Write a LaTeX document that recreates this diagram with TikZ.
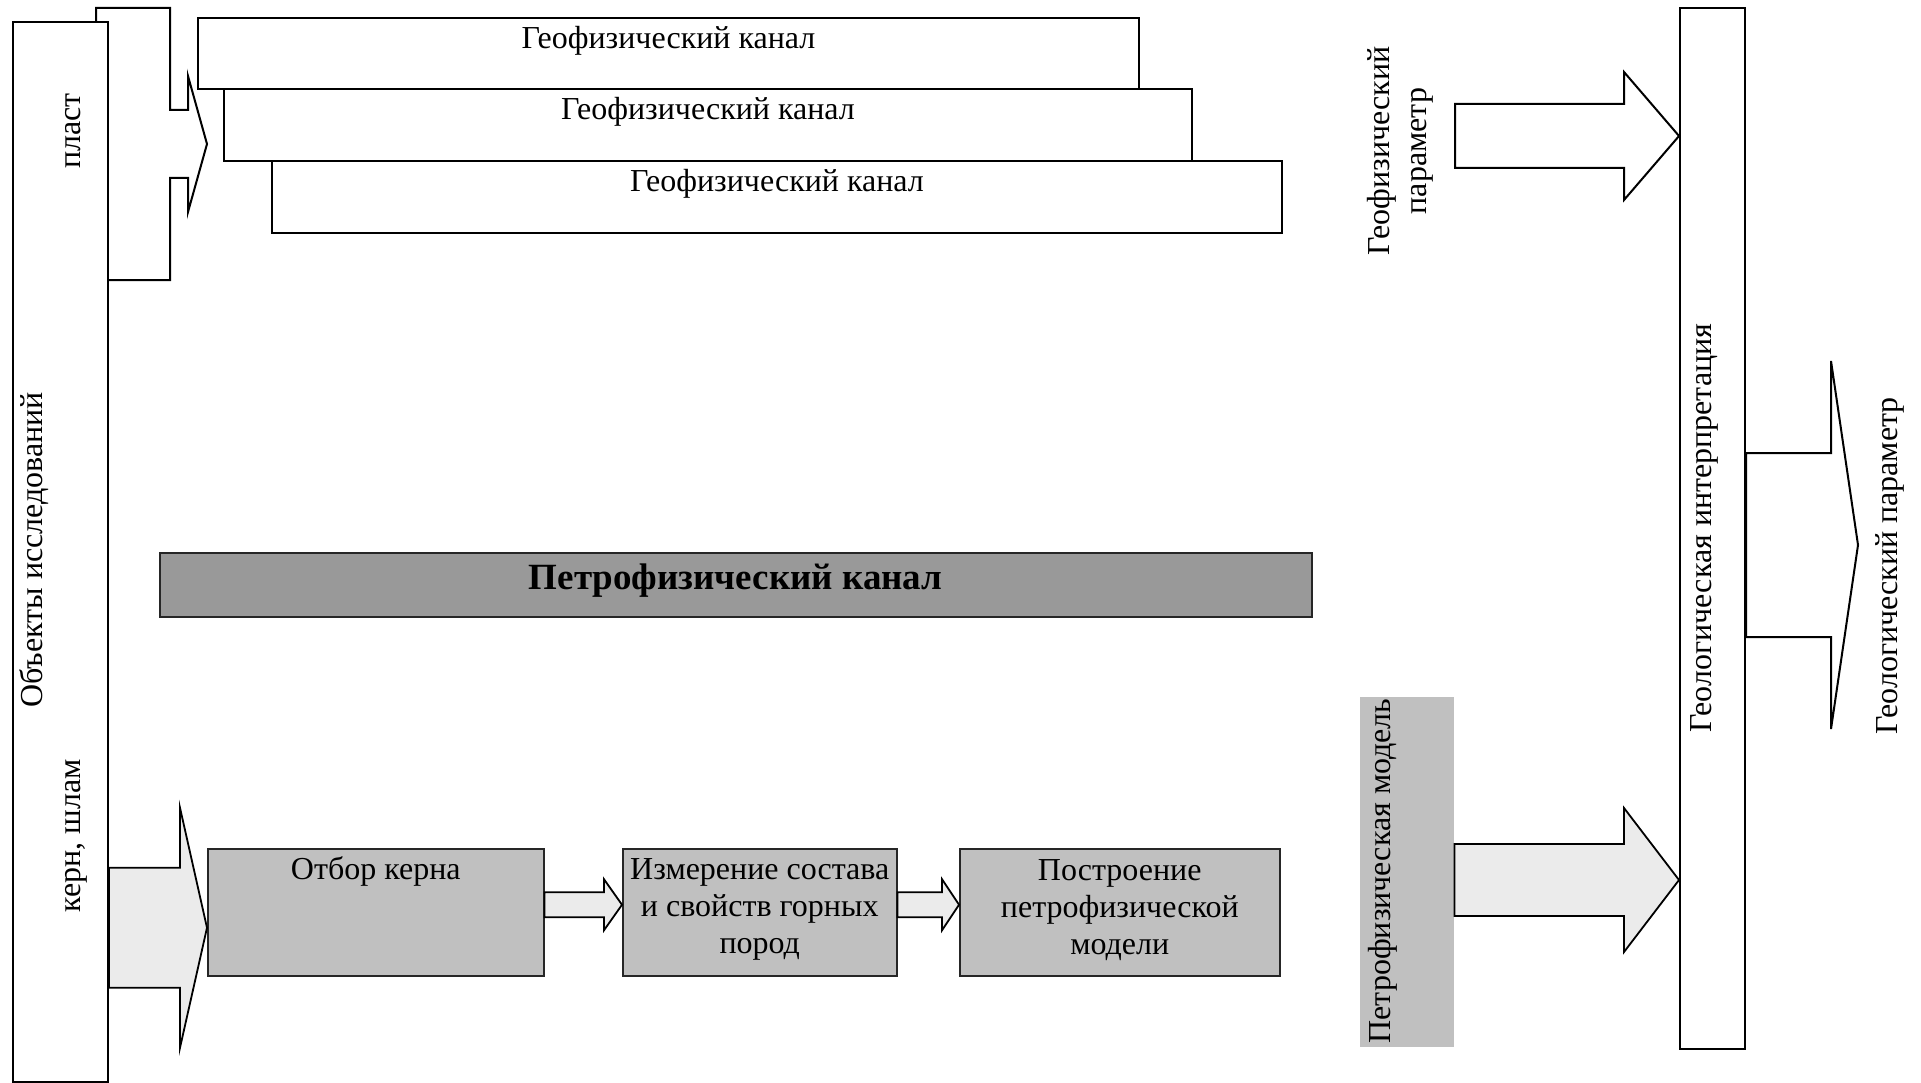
\documentclass[tikz,border=0pt]{standalone}
\usepackage{fontspec}
\setmainfont{Liberation Serif}
\usetikzlibrary{calc}
\definecolor{boxgray}{HTML}{C0C0C0}
\definecolor{bargray}{HTML}{999999}
\definecolor{arrowgray}{HTML}{EBEBEB}
\newcommand{\blkarrow}[6]{%
  \draw[#1] let \p1=(#2), \p2=(#3) in
    (\x1,\y2-#4) -- (\x2-#6,\y2-#4) -- (\x2-#6,\y2-#5) -- (\x2,\y2)
    -- (\x2-#6,\y2+#5) -- (\x2-#6,\y2+#4) -- (\x1,\y2+#4) -- cycle;}
\begin{document}
\begin{tikzpicture}[x=1pt,y=-1pt,
  txt/.style={font=\fontsize{32}{37}\selectfont, inner sep=0pt},
  wbox/.style={draw=black, fill=white, line width=2pt, inner sep=0pt, anchor=north west},
  gbox/.style={draw=black!85, fill=boxgray, line width=1.5pt, inner sep=0pt, anchor=north west},
  wfill/.style={draw=black, fill=white, line width=2pt, line join=miter},
  gfill/.style={draw=black, fill=arrowgray, line width=1.8pt, line join=miter}]
\useasboundingbox (0,0) rectangle (1921,1083);
% flange arrow behind the object box
\draw[wfill] (96,60) -- (96,8) -- (170,8) -- (170,110) -- (188,110) -- (188,76)
  -- (207,144) -- (188,212) -- (188,178) -- (170,178) -- (170,280) -- (96,280) -- cycle;
% object box
\node[wbox, minimum width=95pt, minimum height=1060pt] (obj) at (12,21) {};
\node[txt, rotate=90, anchor=base] (objt) at (42,550) {Объекты исследований};
\node[txt, rotate=90, anchor=base] (plast) at (80,131) {пласт};
\node[txt, rotate=90, anchor=base] (kern) at (80,836) {керн, шлам};
% geophysical channels
\node[wbox, minimum width=941pt, minimum height=71pt] (g1) at (197,17) {};
\node[wbox, minimum width=968pt, minimum height=72pt] (g2) at (223,88) {};
\node[wbox, minimum width=1010pt, minimum height=72pt] (g3) at (271,160) {};
\node[txt, anchor=base] (g1t) at (g1.north |- 0,49) {Геофизический канал};
\node[txt, anchor=base] (g2t) at (g2.north |- 0,120) {Геофизический канал};
\node[txt, anchor=base] (g3t) at (g3.north |- 0,192) {Геофизический канал};
% petrophysical channel
\node[draw=black!85, fill=bargray, line width=1.5pt, inner sep=0pt, anchor=north west,
  minimum width=1152pt, minimum height=64pt] (petro) at (159,552) {};
\node[txt, font=\fontsize{37}{41}\selectfont\bfseries, anchor=base] (petrot) at (petro.north |- 0,589) {Петрофизический канал};
% bottom row
\node[gbox, minimum width=336pt, minimum height=127pt] (ob) at (207,848) {};
\node[gbox, minimum width=274pt, minimum height=127pt] (iz) at (622,848) {};
\node[gbox, minimum width=320pt, minimum height=127pt] (pos) at (959,848) {};
\node[txt, anchor=base] (obt) at (ob.north |- 0,879) {Отбор керна};
\node[txt, align=center] (izt) at ($(iz.center)+(0,-2.5)$) {Измерение состава\\и свойств горных\\пород};
\node[txt, align=center] (post) at ($(pos.center)+(0,-2.5)$) {Построение\\петрофизической\\модели};
% arrows in bottom row
\blkarrow{gfill}{obj.east}{$(ob.west)+(0,15.5)$}{60}{120}{27}
\blkarrow{gfill}{ob.east}{$(iz.west)+(0,-7.5)$}{12.5}{25.5}{18}
\blkarrow{gfill}{iz.east}{$(pos.west)+(0,-7.5)$}{12.5}{25.5}{17}
% right part
\node[fill=boxgray, inner sep=0pt, anchor=north west, minimum width=94pt, minimum height=350pt] (model) at (1360,697) {};
\node[txt, rotate=90, anchor=base] (modelt) at (1390,871) {Петрофизическая модель};
\node[wbox, minimum width=65pt, minimum height=1041pt] (interp) at (1679,7) {};
\node[txt, rotate=90, anchor=base] (interpt) at (1711,528) {Геологическая интерпретация};
\node[txt, rotate=90, align=center] (gpar) at (1400,151) {Геофизический\\параметр};
\coordinate (gparend) at (1455,136);
\blkarrow{wfill}{gparend}{interp.west |- 0,136}{32}{64}{55}
\blkarrow{gfill}{model.east}{interp.west |- 0,880}{36}{72}{55}
\coordinate (geoltip) at (1858,545);
\blkarrow{wfill}{interp.east}{geoltip}{92}{184}{27}
\node[txt, rotate=90, anchor=base] (geolt) at (1897,566) {Геологический параметр};
\end{tikzpicture}
\end{document}
